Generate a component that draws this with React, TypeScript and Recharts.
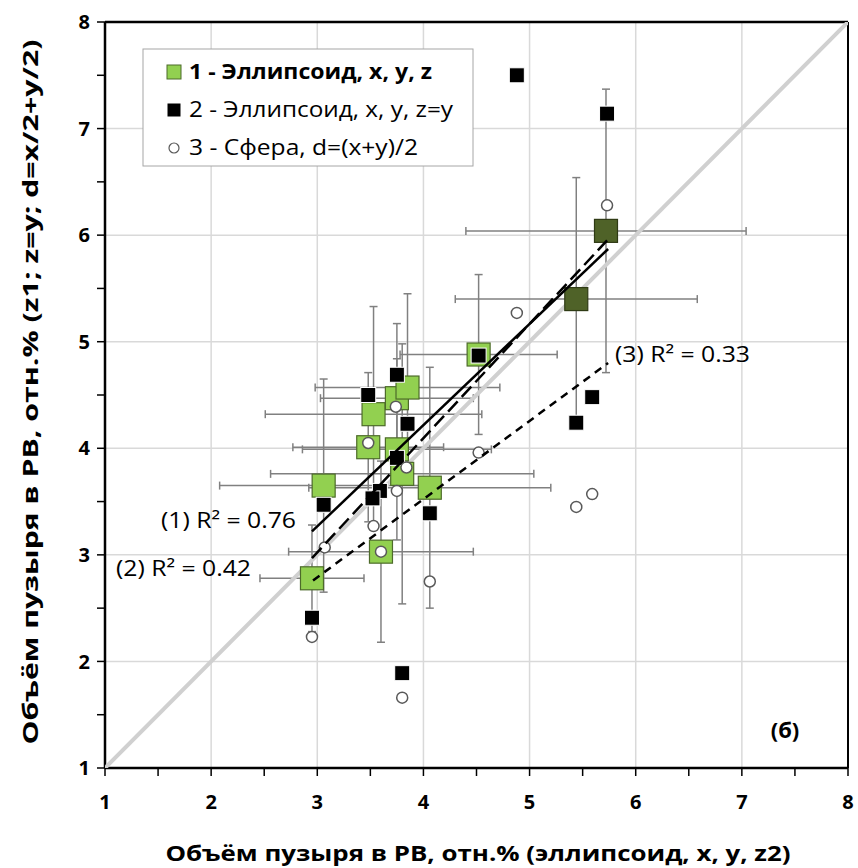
import React from 'react';
import { ScatterChart, Scatter, XAxis, YAxis, CartesianGrid, ErrorBar, ReferenceLine } from 'recharts';

// axis ticks: labels on integers, small marks every 0.5
const axisTicks = [1, 1.5, 2, 2.5, 3, 3.5, 4, 4.5, 5, 5.5, 6, 6.5, 7, 7.5, 8];
const gridValues = [1, 2, 3, 4, 5, 6, 7, 8];

// 1 - Эллипсоид, x, y, z (with error bars)
const s1X = [2.95, 3.06, 3.6, 3.48, 3.53, 3.75, 3.85, 3.75, 3.8, 4.06, 4.52, 5.44, 5.72];
const s1Y = [2.78, 3.65, 3.03, 4.01, 4.32, 4.47, 4.57, 3.99, 3.76, 3.63, 4.88, 5.4, 6.04];
const s1ErrX = [0.49, 0.98, 0.87, 0.71, 1.02, 0.72, 0.87, 0.89, 1.24, 1.14, 0.74, 1.14, 1.32];
const s1ErrY = [0.5, 1.0, 0.85, 0.7, 1.01, 0.7, 0.88, 0.85, 1.22, 1.13, 0.75, 1.14, 1.33];
const s1Highlighted = [11, 12];

// 2 - Эллипсоид, x, y, z=y
const s2X = [4.88, 5.73, 5.59, 5.44, 4.52, 3.75, 3.48, 3.85, 3.75, 3.59, 3.52, 3.06, 4.06, 2.95, 3.8];
const s2Y = [7.5, 7.14, 4.48, 4.24, 4.87, 4.69, 4.5, 4.23, 3.91, 3.6, 3.53, 3.47, 3.39, 2.41, 1.89];

// 3 - Сфера, d=(x+y)/2
const s3X = [5.73, 4.88, 4.52, 5.44, 5.59, 3.74, 3.48, 3.84, 3.75, 3.53, 3.07, 3.6, 4.06, 2.95, 3.8];
const s3Y = [6.28, 5.27, 3.96, 3.45, 3.57, 4.39, 4.05, 3.82, 3.6, 3.27, 3.07, 3.03, 2.75, 2.23, 1.66];

// trend lines (end points) and the y = x line
const fit1X = [2.95, 5.74];
const fit1Y = [3.22, 5.87];
const fit2X = [2.95, 5.73];
const fit2Y = [2.97, 5.95];
const fit3X = [2.96, 5.74];
const fit3Y = [2.76, 4.8];
const diagX = [1, 8];
const diagY = [1, 8];

const pts = (xs: number[], ys: number[]) => xs.map((x, i) => ({ x, y: ys[i] }));

const series1 = s1X.map((x, i) => ({
  x,
  y: s1Y[i],
  ex: s1ErrX[i],
  ey: s1ErrY[i],
  dark: s1Highlighted.includes(i),
}));
const series2 = pts(s2X, s2Y);
const series3 = pts(s3X, s3Y);

const FONT = '"Open Sans", "Liberation Sans", sans-serif';

const GreenSquare = (p: any) => {
  const dark = p.payload && p.payload.dark;
  return (
    <rect
      x={p.cx - 11.5}
      y={p.cy - 11.5}
      width={23}
      height={23}
      fill={dark ? '#4f6228' : '#92d050'}
      stroke={dark ? '#2e3a14' : '#4d6b2a'}
      strokeWidth={1.2}
    />
  );
};

const BlackSquare = (p: any) => (
  <rect x={p.cx - 7.5} y={p.cy - 7.5} width={15} height={15} fill="#000" stroke="#fff" strokeWidth={1} />
);

const WhiteCircle = (p: any) => (
  <circle cx={p.cx} cy={p.cy} r={5.5} fill="#fff" stroke="#595959" strokeWidth={1.5} />
);

const NoDot = () => <g />;

const tickStyle = { fill: '#000', fontSize: 20, fontWeight: 700, fontFamily: FONT };
const fmt = (v: number) => (Number.isInteger(v) ? String(v) : '');

export default function App() {
  return (
    <div style={{ position: 'absolute', left: 0, top: 0, width: 858, height: 868, background: '#fff' }}>
      <ScatterChart width={858} height={868} margin={{ top: 22, right: 10, bottom: 0, left: 0 }}>
        <CartesianGrid stroke="#d9d9d9" strokeWidth={1.5} horizontalValues={gridValues} verticalValues={gridValues} />
        <XAxis
          type="number"
          dataKey="x"
          domain={[1, 8]}
          ticks={axisTicks}
          tickFormatter={fmt}
          interval={0}
          height={100}
          tickSize={8}
          tickMargin={19}
          axisLine={{ stroke: '#000', strokeWidth: 2.5 }}
          tickLine={{ stroke: '#000', strokeWidth: 1.5 }}
          tick={tickStyle}
          allowDataOverflow
        />
        <YAxis
          type="number"
          dataKey="y"
          domain={[1, 8]}
          ticks={axisTicks}
          tickFormatter={fmt}
          interval={0}
          width={105}
          tickSize={8}
          tickMargin={7}
          axisLine={{ stroke: '#000', strokeWidth: 2.5 }}
          tickLine={{ stroke: '#000', strokeWidth: 1.5 }}
          tick={tickStyle}
          allowDataOverflow
        />
        <ReferenceLine x={8} stroke="#000" strokeWidth={2} />
        <ReferenceLine y={8} stroke="#000" strokeWidth={2.5} />
        <Scatter
          data={pts(diagX, diagY)}
          shape={NoDot}
          line={{ stroke: '#d0d0d0', strokeWidth: 4 }}
          isAnimationActive={false}
        />
        <Scatter data={series1} shape={GreenSquare} isAnimationActive={false}>
          <ErrorBar dataKey="ex" direction="x" width={4} stroke="#808080" strokeWidth={1.5} />
          <ErrorBar dataKey="ey" direction="y" width={4} stroke="#808080" strokeWidth={1.5} />
        </Scatter>
        <Scatter data={series2} shape={BlackSquare} isAnimationActive={false} />
        <Scatter data={series3} shape={WhiteCircle} isAnimationActive={false} />
        <Scatter
          data={pts(fit1X, fit1Y)}
          shape={NoDot}
          line={{ stroke: '#000', strokeWidth: 2.5 }}
          isAnimationActive={false}
        />
        <Scatter
          data={pts(fit2X, fit2Y)}
          shape={NoDot}
          line={{ stroke: '#000', strokeWidth: 2.5, strokeDasharray: '14 6' }}
          isAnimationActive={false}
        />
        <Scatter
          data={pts(fit3X, fit3Y)}
          shape={NoDot}
          line={{ stroke: '#000', strokeWidth: 2.5, strokeDasharray: '8 6' }}
          isAnimationActive={false}
        />
      </ScatterChart>

      <svg
        width={858}
        height={868}
        style={{ position: 'absolute', left: 0, top: 0, pointerEvents: 'none' }}
        fontFamily={FONT}
      >
        {/* legend */}
        <rect x={143} y={49} width={330} height={117} fill="#fff" stroke="#a6a6a6" strokeWidth={1} />
        <rect x={167} y={65} width={14} height={14} fill="#92d050" stroke="#4d6b2a" strokeWidth={1} />
        <rect x={167.5} y={103.5} width={13} height={13} fill="#000" />
        <circle cx={174} cy={148} r={5} fill="#fff" stroke="#595959" strokeWidth={1.2} />
        <text x={189} y={79} fontSize={21} fontWeight={700} textLength={243} lengthAdjust="spacingAndGlyphs">
          1 - Эллипсоид, x, y, z
        </text>
        <text x={189} y={117} fontSize={21} textLength={264} lengthAdjust="spacingAndGlyphs">
          2 - Эллипсоид, x, y, z=y
        </text>
        <text x={189} y={155} fontSize={21} textLength={229} lengthAdjust="spacingAndGlyphs">
          3 - Сфера, d=(x+y)/2
        </text>

        {/* R² labels */}
        <text x={161} y={528} fontSize={21} textLength={135} lengthAdjust="spacingAndGlyphs">
          (1) R² = 0.76
        </text>
        <text x={116} y={576} fontSize={21} textLength={135} lengthAdjust="spacingAndGlyphs">
          (2) R² = 0.42
        </text>
        <text x={615} y={362} fontSize={21} textLength={135} lengthAdjust="spacingAndGlyphs">
          (3) R² = 0.33
        </text>

        <text x={785} y={738} fontSize={22} fontWeight={700} textAnchor="middle">
          (б)
        </text>

        {/* axis titles */}
        <text
          x={478}
          y={861}
          fontSize={22}
          fontWeight={700}
          textAnchor="middle"
          textLength={625}
          lengthAdjust="spacingAndGlyphs"
        >
          Объём пузыря в РВ, отн.% (эллипсоид, x, y, z2)
        </text>
        <text
          transform="translate(38, 392) rotate(-90)"
          fontSize={22}
          fontWeight={700}
          textAnchor="middle"
          textLength={705}
          lengthAdjust="spacingAndGlyphs"
        >
          Объём пузыря в РВ, отн.% (z1; z=y; d=x/2+y/2)
        </text>
      </svg>
    </div>
  );
}
